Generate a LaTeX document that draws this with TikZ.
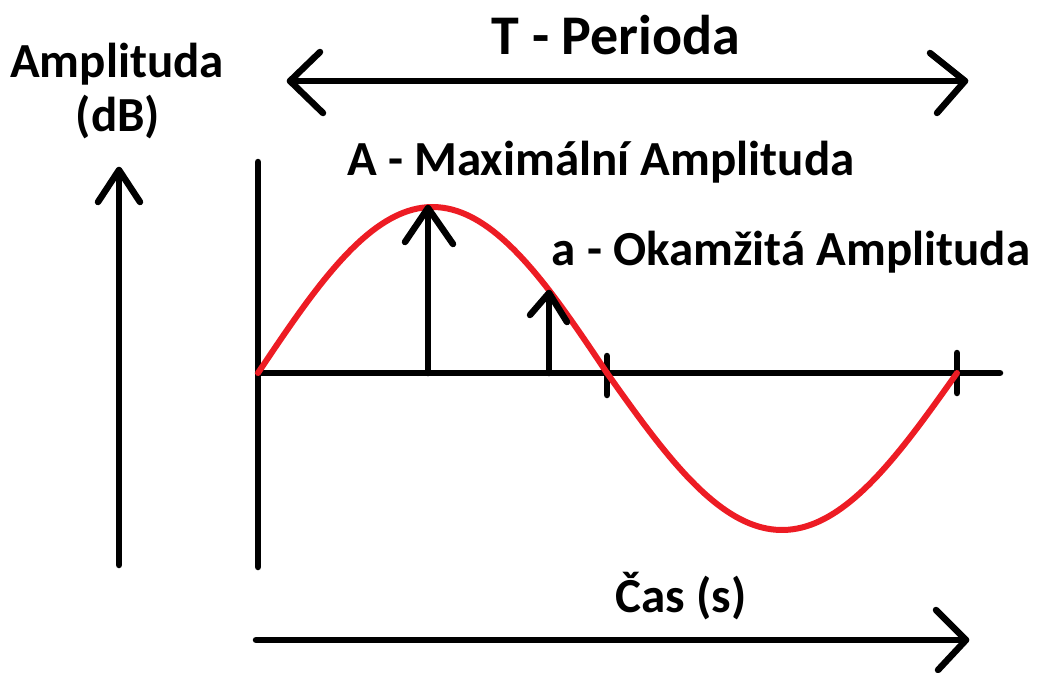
\documentclass[tikz,border=0pt]{standalone}
\usepackage{fontspec}
\setmainfont{Carlito}
\usetikzlibrary{calc}
\definecolor{paintred}{RGB}{237,28,36}
\tikzset{
  blk/.style={line width=6.5pt, line cap=round, line join=round, black},
  wave/.style={line width=6pt, line cap=round, paintred},
  lbl/.style={font=\bfseries\fontsize{49}{55}\selectfont, inner sep=0pt, anchor=base},
  biglbl/.style={font=\bfseries\fontsize{56}{62}\selectfont, inner sep=0pt, anchor=base},
}
\begin{document}
\begin{tikzpicture}[x=1pt,y=-1pt]
\useasboundingbox (0,0) rectangle (1038,672);
% coordinates
\coordinate (TL) at (290,81);
\coordinate (TR) at (965,81);
\coordinate (VB) at (119,565);
\coordinate (VT) at (119,170);
\coordinate (YT) at (258,162);
\coordinate (YB) at (258,567);
\coordinate (XL) at (258,373);
\coordinate (XR) at (1000,373);
\coordinate (BL) at (256,640);
\coordinate (BR) at (966,640);
\coordinate (Abase) at (428,373);
\coordinate (Atip) at (428,208);
\coordinate (abase) at (549,373);
\coordinate (atip) at (549,293);
\coordinate (t1a) at (607,356);
\coordinate (t1b) at (607,395);
\coordinate (t2a) at (957,353);
\coordinate (t2b) at (957,393);
% labels
\node[biglbl] (T) at (616,54) {T - Perioda};
\node[lbl] (amp) at (117,77) {Amplituda};
\node[lbl] (dB) at (118,131) {(dB)};
\node[lbl] (Amax) at (601,175) {A - Maximální Amplituda};
\node[lbl] (aok) at (791,265) {a - Okamžitá Amplituda};
\node[lbl] (cas) at (681,612) {Čas (s)};
% top double arrow
\draw[blk] (TL) -- (TR);
\draw[blk] ($(TL)+(30,-29)$) -- (TL) -- ($(TL)+(33,32)$);
\draw[blk] ($(TR)+(-35,-28)$) -- (TR) -- ($(TR)+(-28,32)$);
% left vertical arrow
\draw[blk] (VB) -- (VT);
\draw[blk] ($(VT)+(-21,32)$) -- (VT) -- ($(VT)+(21,32)$);
% axes
\draw[blk] (YT) -- (YB);
\draw[blk] (XL) -- (XR);
\draw[blk] (t1a) -- (t1b);
\draw[blk] (t2a) -- (t2b);
% bottom arrow
\draw[blk] (BL) -- (BR);
\draw[blk] ($(BR)+(-30,-30)$) -- (BR) -- ($(BR)+(-28,30)$);
% sine wave
\draw[wave] plot[domain=0:180, samples=80] ({258+\x/180*349},{373-166*sin(\x)});
\draw[wave] plot[domain=0:180, samples=80] ({607+\x/180*350},{373+157*sin(\x)});
% amplitude arrows
\draw[blk] (Abase) -- (Atip);
\draw[blk] ($(Atip)+(-23,34)$) -- (Atip) -- ($(Atip)+(25,36)$);
\draw[blk] (abase) -- (atip);
\draw[blk] ($(atip)+(-19,22)$) -- (atip) -- ($(atip)+(18,29)$);
\end{tikzpicture}
\end{document}
